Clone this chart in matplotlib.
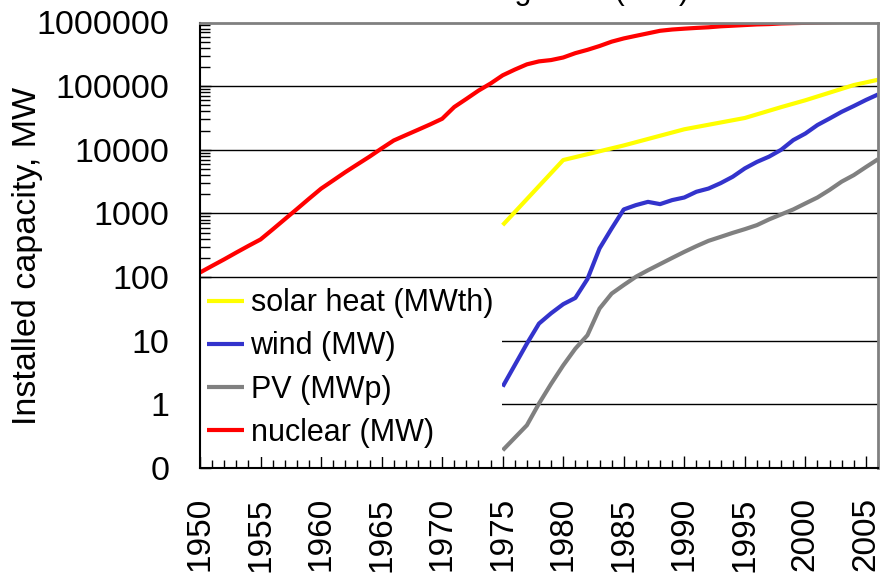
import matplotlib
matplotlib.use("Agg")
import matplotlib.pyplot as plt
from matplotlib.ticker import FixedLocator, FixedFormatter, MultipleLocator, LogLocator, NullFormatter

plt.rcParams['font.family'] = ['Liberation Sans', 'DejaVu Sans']

# ---- data ----
nuclear_years = list(range(1950, 2005))
nuclear_mw = [118, 150, 190, 243, 309, 390, 560, 810, 1170, 1700,
              2450, 3300, 4450, 5900, 7800, 10500, 14000, 17000, 20600, 25000,
              30700, 47000, 63000, 85000, 110000, 148000, 182000, 220000, 245000, 257000,
              282000, 330000, 372000, 427000, 500000, 562000, 617000, 676000, 741000, 776000,
              800000, 822000, 841000, 871000, 891000, 912000, 933000, 944000, 966000, 977000,
              988000, 1000000, 1010000, 1020000, 1035000]

solar_years = [1975, 1980, 1985, 1990, 1995, 1998, 2000, 2002, 2004, 2006]
solar_mwth = [655, 6900, 11700, 21000, 31600, 46800, 60000, 79000, 104000, 126000]

wind_years = [1975, 1977, 1978, 1979, 1980, 1981, 1982, 1983, 1984, 1985,
              1986, 1987, 1988, 1989, 1990, 1991, 1992, 1993, 1994, 1995,
              1996, 1997, 1998, 1999, 2000, 2001, 2002, 2003, 2004, 2005, 2006]
wind_mw = [1.9, 9, 18.6, 27, 37.5, 47, 93, 282, 580, 1155,
           1350, 1520, 1400, 1620, 1780, 2190, 2460, 2990, 3770, 5100,
           6450, 7800, 10000, 14200, 18000, 24500, 31000, 39500, 48700, 60600, 74000]

pv_years = [1975, 1977, 1978, 1979, 1980, 1981, 1982, 1983, 1984, 1985,
            1986, 1987, 1988, 1989, 1990, 1991, 1992, 1993, 1994, 1995,
            1996, 1997, 1998, 1999, 2000, 2001, 2002, 2003, 2004, 2005, 2006]
pv_mwp = [0.19, 0.47, 1.03, 2.1, 4.1, 7.5, 12.2, 32, 55, 75,
          101, 128, 160, 200, 249, 306, 371, 428, 495, 566,
          655, 805, 965, 1155, 1436, 1780, 2340, 3160, 4000, 5350, 7100]

y_ticks = [0.1, 1, 10, 100, 1000, 10000, 100000, 1000000]
y_tick_labels = ["0", "1", "10", "100", "1000", "10000", "100000", "1000000"]
x_ticks = list(range(1950, 2006, 5))
x_tick_labels = [str(y) for y in x_ticks]

labels = ["solar heat (MWth)", "wind (MW)", "PV (MWp)", "nuclear (MW)"]
title_text = "Historical growth (MW)"

# ---- figure ----
W, H = 880, 574
fig = plt.figure(figsize=(W / 100, H / 100), dpi=100)
ax = fig.add_axes([200 / W, 1 - 468 / H, 678 / W, (468 - 22.5) / H])

lw = 3.0
ax.plot(solar_years, solar_mwth, color="#FFFF00", lw=lw, label=labels[0], solid_capstyle="butt", zorder=2)
ax.plot(wind_years, wind_mw, color="#3333CC", lw=lw, label=labels[1], solid_capstyle="butt", zorder=2)
ax.plot(pv_years, pv_mwp, color="#808080", lw=lw, label=labels[2], solid_capstyle="butt", zorder=2)
ax.plot(nuclear_years, nuclear_mw, color="#FF0000", lw=lw, label=labels[3], solid_capstyle="butt", zorder=2)

ax.set_yscale("log")
ax.set_ylim(0.1, 1e6)
ax.set_xlim(1950, 2006)

ax.yaxis.set_major_locator(FixedLocator(y_ticks))
ax.yaxis.set_major_formatter(FixedFormatter(y_tick_labels))
ax.yaxis.set_minor_locator(LogLocator(base=10, subs=range(2, 10), numticks=40))
ax.yaxis.set_minor_formatter(NullFormatter())

ax.xaxis.set_major_locator(FixedLocator(x_ticks))
ax.xaxis.set_major_formatter(FixedFormatter(x_tick_labels))
ax.xaxis.set_minor_locator(MultipleLocator(1))

ax.tick_params(axis="y", which="major", direction="in", length=8, width=1, labelsize=24.5, pad=22)
ax.tick_params(axis="y", which="minor", direction="in", length=7, width=1)
ax.tick_params(axis="x", which="major", direction="in", length=9, width=1, labelsize=24, pad=21,
               labelrotation=90)
ax.tick_params(axis="x", which="minor", direction="in", length=6, width=1)

# horizontal grid lines at the inner decades (below the legend)
for yv in y_ticks[1:-1]:
    ax.axhline(yv, color="black", lw=1, zorder=1)

for s in ("left", "bottom"):
    ax.spines[s].set_color("black")
    ax.spines[s].set_linewidth(1.5)
for s in ("top", "right"):
    ax.spines[s].set_color("#808080")
    ax.spines[s].set_linewidth(2)

ax.set_ylabel("Installed capacity, MW", fontsize=24.5)
ax.yaxis.set_label_coords(-(200 - 28) / 678, 0.475)
ax.yaxis.label.set_va("center")

leg = ax.legend(loc="upper left", bbox_to_anchor=(-0.003, 0.424), fontsize=22, frameon=True,
                handlelength=1.2, handletextpad=0.22, labelspacing=0.43, borderpad=0.3,
                borderaxespad=0.0)
leg.get_frame().set_facecolor("white")
leg.get_frame().set_edgecolor("none")
leg.get_frame().set_alpha(1.0)
leg.get_frame().set_boxstyle("square", pad=0)
leg.set_zorder(2.2)

fig.text(535 / W, 1 + 1 / H, title_text, ha="center", va="baseline", fontsize=22)

fig.savefig("out.png", dpi=100)
